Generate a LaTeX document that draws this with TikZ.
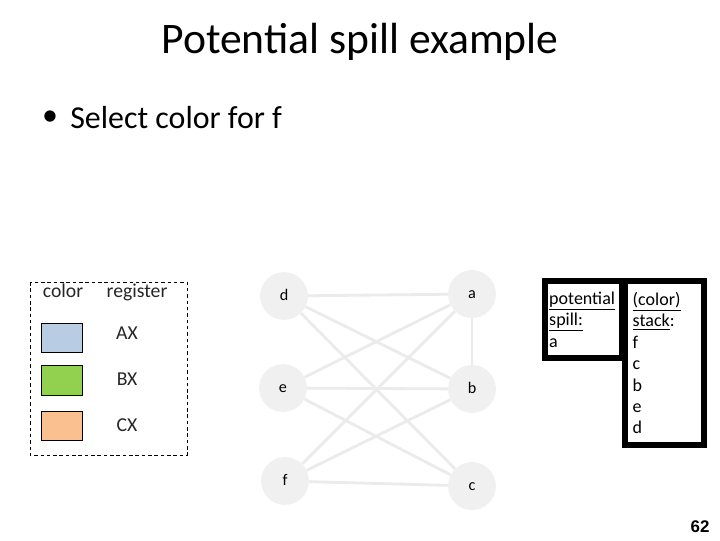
\documentclass[tikz,border=0pt]{standalone}
\usepackage{fontspec}
\setmainfont{Carlito}
\newfontfamily\arialfont{Liberation Sans}
\usepackage{xcolor}
\usetikzlibrary{positioning, backgrounds}

\definecolor{nodegray}{HTML}{F0F0F0}
\definecolor{edgegray}{HTML}{EBEBEB}
\definecolor{axblue}{HTML}{B8CCE4}
\definecolor{bxgreen}{HTML}{92D050}
\definecolor{cxorange}{HTML}{FAC090}

\begin{document}
\begin{tikzpicture}[x=0.025cm, y=-0.025cm]

\tikzset{
  vertex/.style={circle, fill=nodegray, minimum size=34pt, inner sep=0pt,
    text height=1.6ex, text depth=0.2ex, font=\fontsize{11.5}{13}\selectfont},
  edge/.style={draw=edgegray, line width=2pt},
  swatch/.style={rectangle, draw=black, line width=0.7pt,
    minimum width=29.8pt, minimum height=21.3pt, inner sep=0pt},
  legendtext/.style={font=\fontsize{14}{16}\selectfont, text=black!85,
    text height=1.6ex, text depth=0.5ex},
  legendframe/.style={draw=black, line width=0.7pt, dash pattern=on 2.5pt off 2pt},
  stackbox/.style={rectangle, draw=black, line width=4.25pt, fill=white,
    align=left, anchor=north west, inner ysep=0pt,
    font=\fontsize{12.8}{15.2}\selectfont}
}

\useasboundingbox (0,0) rectangle (720,540);

% title and bullet
\node (title) at (360,42) {\fontsize{31}{37}\selectfont Potential spill example};
\node (bullet) at (50,118) {\fontsize{22.7}{26}\selectfont \textbullet};
\node[anchor=west, inner xsep=0pt] (task) at (70,118)
  {\fontsize{22.7}{26}\selectfont Select color for f};

% register legend
\draw[legendframe] (30,282) rectangle (187,455);
\node[legendtext] (colhead) at (63,294) {color};
\node[legendtext] (reghead) at (137,294) {register};
\node[swatch, fill=axblue]   (swax) at (62,338) {};
\node[swatch, fill=bxgreen]  (swbx) at (62,380.5) {};
\node[swatch, fill=cxorange] (swcx) at (62,426) {};
\node[legendtext] (axname) at (127,336) {AX};
\node[legendtext] (bxname) at (127,382) {BX};
\node[legendtext] (cxname) at (127,428) {CX};

% interference graph
\node[vertex] (d) at (284,296) {d};
\node[vertex] (e) at (283,388) {e};
\node[vertex] (f) at (285,481) {f};
\node[vertex] (a) at (472,294) {a};
\node[vertex] (b) at (472,389) {b};
\node[vertex] (c) at (472,486) {c};

\begin{scope}[on background layer]
  \fill[white] (0,0) rectangle (720,540);
  \foreach \u/\v in {d/a, d/b, d/c, e/a, e/b, e/c, f/a, f/b, f/c, a/b}
    \draw[edge] (\u) -- (\v);
\end{scope}

% spill and stack
\node[stackbox, inner xsep=3pt, text width=48.6pt, minimum height=55pt]
  (spill) at (542,278)
  {\underline{potential}\\\underline{spill:}\\a};
\node[stackbox, inner xsep=5.5pt, text width=45pt, minimum height=116.9pt]
  (stack) at (622,278)
  {\underline{(color)}\\\underline{stack}:\\f\\c\\b\\e\\d};

\node (pagenum) at (700,527) {\arialfont\bfseries\fontsize{12}{14}\selectfont 62};

\end{tikzpicture}
\end{document}
